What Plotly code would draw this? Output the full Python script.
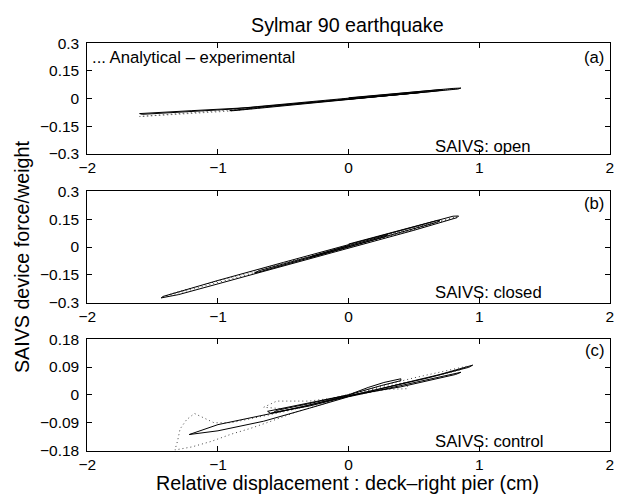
import plotly.graph_objects as go

# ---- Panel (a): SAIVS open ----
exp_a_x = [0.0, 0.40, 0.80, 0.86, 0.84, 0.40, 0.0, -0.40, -0.75, -1.20, -1.60, -1.58, -1.20, -0.90, -0.70, -0.40,
           0.0, 0.40, 0.70, 0.72, 0.66, 0.30, 0.0, -0.40, -0.70, -0.91, -0.88, -0.70, -0.40, 0.0, 0.30, 0.55,
           0.52, 0.20, 0.0]
exp_a_y = [0.004, 0.031, 0.055, 0.057, 0.052, 0.022, -0.004, -0.029, -0.049, -0.066, -0.082, -0.086, -0.071,
           -0.058, -0.044, -0.024, 0.003, 0.029, 0.048, 0.046, 0.040, 0.016, -0.003, -0.031, -0.050, -0.066,
           -0.066, -0.054, -0.034, -0.006, 0.014, 0.033, 0.029, 0.008, -0.004]
ana_a_x = [0.0, 0.40, 0.85, 0.80, 0.40, 0.0, -0.40, -0.90, -1.25, -1.60, -1.30, -0.90, -0.50, 0.0]
ana_a_y = [0.0, 0.027, 0.055, 0.050, 0.023, -0.002, -0.028, -0.068, -0.084, -0.098, -0.082, -0.062, -0.035, 0.0]

# ---- Panel (b): SAIVS closed ----
exp_b_x = [0.0, 0.50, 0.80, 0.842, 0.83, 0.50, 0.0, -0.50, -1.00, -1.30, -1.435, -1.42, -1.20, -1.00, -0.50, 0.0,
           0.40, 0.68, 0.70, 0.66, 0.30, 0.0, -0.40, -0.70, -0.72, -0.68, -0.30, 0.0, 0.30, 0.28, 0.0, -0.30,
           -0.28, 0.0]
exp_b_y = [0.016, 0.112, 0.166, 0.167, 0.158, 0.090, -0.006, -0.102, -0.199, -0.256, -0.274, -0.266, -0.221,
           -0.180, -0.083, 0.013, 0.090, 0.143, 0.141, 0.130, 0.060, 0.0, -0.078, -0.137, -0.139, -0.126, -0.053,
           0.006, 0.066, 0.056, 0.0, -0.058, -0.049, 0.008]
ana_b_x = [0.0, 0.50, 0.83, 0.78, 0.40, 0.0, -0.50, -1.00, -1.42, -1.35, -1.00, -0.50, 0.0, 0.45, 0.65, 0.60, 0.20,
           -0.30, -0.65, -0.60, -0.20, 0.0]
ana_b_y = [0.008, 0.104, 0.163, 0.150, 0.074, -0.002, -0.098, -0.193, -0.270, -0.250, -0.184, -0.088, 0.008,
           0.094, 0.130, 0.116, 0.038, -0.058, -0.126, -0.113, -0.034, 0.002]

# ---- Panel (c): SAIVS control ----
exp_c_x = [0.0, 0.15, 0.27, 0.40, 0.40, 0.25, 0.0, -0.30, -0.62, -0.60, -0.30, 0.0, 0.40, 0.70, 0.95, 0.92, 0.60,
           0.30, 0.0, -0.50, -1.00, -1.22, -1.00, -0.65, -0.30, 0.0, 0.40, 0.86, 0.82, 0.40, 0.0, -0.35, -0.58,
           -0.55, -0.30, 0.0]
exp_c_y = [0.0, 0.024, 0.040, 0.052, 0.046, 0.030, 0.0, -0.025, -0.053, -0.059, -0.036, -0.005, 0.036, 0.066, 0.096,
           0.089, 0.054, 0.025, -0.004, -0.052, -0.096, -0.128, -0.116, -0.085, -0.043, -0.006, 0.030, 0.073, 0.066,
           0.026, -0.002, -0.038, -0.058, -0.050, -0.028, 0.0]
ana_c_x = [0.0, 0.30, 0.45, 0.45, 0.30, 0.0, -0.30, -0.55, -0.65, -0.50, -0.20, 0.0, 0.50, 0.90, 0.85, 0.50, 0.0,
           -0.50, -0.90, -1.03, -1.10, -1.18, -1.24, -1.29, -1.31, -1.33, -1.20, -1.05, -0.90, -0.75, -0.60, -0.40,
           -0.20, 0.0]
ana_c_y = [0.0, 0.028, 0.042, 0.020, 0.018, -0.004, -0.020, -0.020, -0.040, -0.045, -0.020, 0.002, 0.055, 0.092,
           0.080, 0.045, -0.003, -0.055, -0.090, -0.090, -0.075, -0.060, -0.080, -0.110, -0.150, -0.178, -0.168,
           -0.150, -0.127, -0.108, -0.086, -0.055, -0.030, -0.003]

x_ticks = [-2, -1, 0, 1, 2]
x_ticktext = ["\u22122", "\u22121", "0", "1", "2"]
y_ticks_ab = [-0.3, -0.15, 0, 0.15, 0.3]
y_ticktext_ab = ["\u22120.3", "\u22120.15", "0", "0.15", "0.3"]
y_ticks_c = [-0.18, -0.09, 0, 0.09, 0.18]
y_ticktext_c = ["\u22120.18", "\u22120.09", "0", "0.09", "0.18"]

FONT = "Liberation Sans, Arial, Helvetica, sans-serif"
TICK_SIZE = 15.5
TEXT_SIZE = 16.7
LABEL_SIZE = 19.7

x_dom = [80 / 630, 613.5 / 630]
y_doms = [[0.7024, 0.9292], [0.3956, 0.6249], [0.0913, 0.3207]]

fig = go.Figure()

panels = [
    (exp_a_x, exp_a_y, ana_a_x, ana_a_y),
    (exp_b_x, exp_b_y, ana_b_x, ana_b_y),
    (exp_c_x, exp_c_y, ana_c_x, ana_c_y),
]
for i, (ex, ey, ax, ay) in enumerate(panels, start=1):
    sfx = "" if i == 1 else str(i)
    fig.add_trace(go.Scatter(x=ax, y=ay, mode="lines", xaxis="x" + sfx, yaxis="y" + sfx,
                             line=dict(color="#444444", width=1, dash="1px,3px"), showlegend=False))
    fig.add_trace(go.Scatter(x=ex, y=ey, mode="lines", xaxis="x" + sfx, yaxis="y" + sfx,
                             line=dict(color="black", width=1), showlegend=False))


def xaxis(anchor, dom):
    return dict(domain=dom, anchor=anchor, range=[-2, 2], tickvals=x_ticks, ticktext=x_ticktext,
                showline=True, linecolor="black", linewidth=1, mirror="ticks", ticks="inside",
                ticklen=5, tickcolor="black", showgrid=False, zeroline=False, ticklabelstandoff=0,
                tickfont=dict(family=FONT, size=TICK_SIZE, color="black"))


def yaxis(anchor, dom, rng, tv, tt):
    return dict(domain=dom, anchor=anchor, range=rng, tickvals=tv, ticktext=tt,
                showline=True, linecolor="black", linewidth=1, mirror="ticks", ticks="inside",
                ticklen=5, tickcolor="black", showgrid=False, zeroline=False, ticklabelstandoff=4,
                tickfont=dict(family=FONT, size=TICK_SIZE, color="black"))


fig.update_layout(
    width=630, height=503,
    margin=dict(l=0, r=0, t=0, b=0),
    paper_bgcolor="white", plot_bgcolor="white",
    xaxis=xaxis("y", x_dom),
    xaxis2=xaxis("y2", x_dom),
    xaxis3=xaxis("y3", x_dom),
    yaxis=yaxis("x", y_doms[0], [-0.3, 0.3], y_ticks_ab, y_ticktext_ab),
    yaxis2=yaxis("x2", y_doms[1], [-0.3, 0.3], y_ticks_ab, y_ticktext_ab),
    yaxis3=yaxis("x3", y_doms[2], [-0.18, 0.18], y_ticks_c, y_ticktext_c),
    font=dict(family=FONT, color="black"),
)

notes = [
    dict(x=-1.98, y=0.222, xref="x", yref="y", text="... Analytical \u2013 experimental", xanchor="left"),
    dict(x=1.97, y=0.222, xref="x", yref="y", text="(a)", xanchor="right"),
    dict(x=0.65, y=-0.262, xref="x", yref="y", text="SAIVS: open", xanchor="left"),
    dict(x=1.97, y=0.232, xref="x2", yref="y2", text="(b)", xanchor="right"),
    dict(x=0.65, y=-0.245, xref="x2", yref="y2", text="SAIVS: closed", xanchor="left"),
    dict(x=1.97, y=0.142, xref="x3", yref="y3", text="(c)", xanchor="right"),
    dict(x=0.65, y=-0.152, xref="x3", yref="y3", text="SAIVS: control", xanchor="left"),
]
for n in notes:
    fig.add_annotation(showarrow=False, yanchor="middle", font=dict(family=FONT, size=TEXT_SIZE, color="black"), **n)

# Figure title and shared axis labels
fig.add_annotation(text="Sylmar 90 earthquake", xref="paper", yref="paper", x=346 / 630, y=1 - 17 / 503,
                   showarrow=False, xanchor="center", yanchor="middle",
                   font=dict(family=FONT, size=LABEL_SIZE, color="black"))
fig.add_annotation(text="Relative displacement : deck\u2013right pier (cm)", xref="paper", yref="paper",
                   x=346 / 630, y=1 - 491 / 503, showarrow=False, xanchor="center", yanchor="middle",
                   font=dict(family=FONT, size=LABEL_SIZE, color="black"))
fig.add_annotation(text="SAIVS device force/weight", xref="paper", yref="paper", x=14 / 630, y=1 - 256 / 503,
                   showarrow=False, xanchor="center", yanchor="middle", textangle=-90,
                   font=dict(family=FONT, size=LABEL_SIZE, color="black"))

fig.write_html("out.html")
